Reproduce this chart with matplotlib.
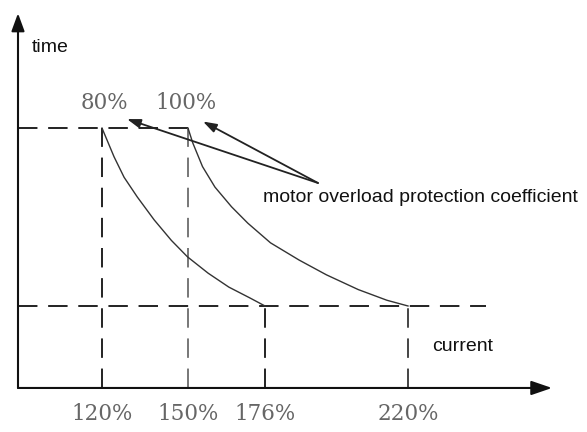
#import used libraries
import numpy as np
from matplotlib import pyplot as plt

# ---- data (current in %, time in arbitrary units) ----
tick_currents = [120, 150, 176, 220]
tick_labels = ['120%', '150%', '176%', '220%']

t_high = 3.17   # upper time level (start of the curves)
t_low = 1.0     # lower time level (end of the curves)

# 80% coefficient curve
cur_80 = [120, 121.8, 124.2, 127.7, 132.3, 138.2, 144.2, 149.8, 156.8, 163.8, 170.8, 176]
time_80 = [3.17, 3.02, 2.82, 2.57, 2.33, 2.05, 1.80, 1.60, 1.40, 1.23, 1.10, 1.0]

# 100% coefficient curve
cur_100 = [150, 151.6, 154.9, 159.1, 164.7, 170.2, 177.7, 186.5, 194.9, 204.7, 213.5, 220]
time_100 = [3.17, 2.99, 2.70, 2.45, 2.21, 2.01, 1.77, 1.56, 1.38, 1.20, 1.07, 1.0]

coef_labels = ['80%', '100%']

# the sketch is not drawn to scale: piecewise linear current axis
scale_pct = np.array([0, 120, 150, 176, 220, 400])
scale_pos = np.array([-242.0, 102, 188, 265, 408, 966])

def fwd(v):
    return np.interp(v, scale_pct, scale_pos)

def inv(p):
    return np.interp(p, scale_pos, scale_pct)

#Create figure, one axes over the whole canvas
fig = plt.figure(figsize=(5.87, 4.32), dpi=100)
ax = fig.add_axes([0, 0, 1, 1])
ax.set_xscale('function', functions=(fwd, inv))
ax.set_xlim(inv(0), inv(587))
ax.set_ylim(-0.537, 4.732)
ax.axis('off')

x0 = inv(18)        # where the time axis stands
x_end = inv(552)    # tip of the current axis
dash = (0, (10, 5.5))

#axes with arrow heads
ax.annotate('', xy=(x0, 4.57), xytext=(x0, 0),
            arrowprops=dict(arrowstyle='-|>,head_length=0.6,head_width=0.22',
                            lw=1.5, color='#111111', shrinkA=0, shrinkB=0,
                            mutation_scale=18))
ax.annotate('', xy=(x_end, 0), xytext=(x0, 0),
            arrowprops=dict(arrowstyle='-|>,head_length=0.7,head_width=0.24',
                            lw=1.5, color='#111111', shrinkA=0, shrinkB=0,
                            mutation_scale=18))

#horizontal dashed levels
ax.plot([x0, tick_currents[1]], [t_high, t_high], ls=dash, lw=1.4, color='#222222')
ax.plot([x0, inv(486)], [t_low, t_low], ls=dash, lw=1.4, color='#222222')

#vertical dashed lines
tops = [t_high, t_high, t_low, t_low]
vcols = ['#222222', '#777777', '#222222', '#444444']
for c, top, col in zip(tick_currents, tops, vcols):
    ax.plot([c, c], [0, top], ls=dash, lw=1.4, color=col)

#curves
ax.plot(cur_80, time_80, color='#333333', lw=1.0)
ax.plot(cur_100, time_100, color='#333333', lw=1.0)

#tick labels
for c, lab in zip(tick_currents, tick_labels):
    ax.annotate(lab, xy=(c, 0), xytext=(0, -18.5), textcoords='offset points',
                ha='center', va='center', fontsize=15.5, family='DejaVu Serif',
                color='#666666')

#coefficient labels above the curve starts
for c, lab, dx in zip([cur_80[0], cur_100[0]], coef_labels, [1.5, -1.5]):
    ax.annotate(lab, xy=(c, t_high), xytext=(dx, 18), textcoords='offset points',
                ha='center', va='center', fontsize=15.5, family='DejaVu Serif',
                color='#666666')

#pointer arrows
tail = (inv(318), 2.50)
for tip in [(inv(127), 3.28), (inv(203), 3.25)]:
    ax.annotate('', xy=tip, xytext=tail,
                arrowprops=dict(arrowstyle='-|>,head_length=0.45,head_width=0.15',
                                lw=1.3, color='#222222', shrinkA=0, shrinkB=0,
                                mutation_scale=18))

#texts
ax.text(0.0545, 0.891, 'time', transform=ax.transAxes, fontsize=14,
        family='Liberation Sans', va='center', ha='left', color='#111111')
ax.text(0.448, 0.542, 'motor overload protection coefficient', transform=ax.transAxes,
        fontsize=14, family='Liberation Sans', va='center', ha='left', color='#111111')
ax.text(0.736, 0.197, 'current', transform=ax.transAxes, fontsize=14,
        family='Liberation Sans', va='center', ha='left', color='#111111')

plt.savefig('out.png', dpi=100)
plt.close()
